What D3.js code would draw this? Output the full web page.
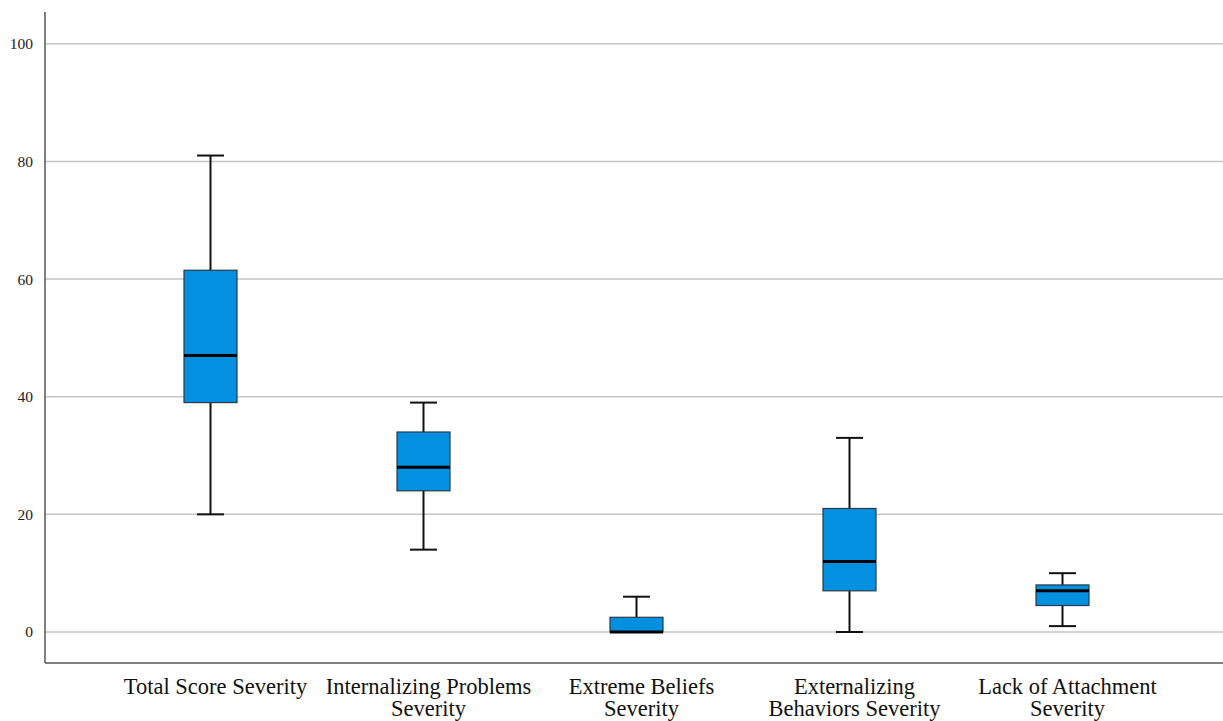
<!DOCTYPE html>
<html>
<head>
<meta charset="utf-8">
<title>Severity boxplots</title>
<script src="https://cdn.jsdelivr.net/npm/d3@7"></script>
<style>
  body { margin: 0; background: #fff; }
  svg { display: block; }
</style>
</head>
<body>
<svg width="1223" height="721"></svg>
<script>
// categories, two text lines each
const categories = ["Total Score Severity", "Internalizing Problems Severity", "Extreme Beliefs Severity",
                    "Externalizing Behaviors Severity", "Lack of Attachment Severity"];
const labelLines = [["Total Score Severity"], ["Internalizing Problems", "Severity"], ["Extreme Beliefs", "Severity"],
                    ["Externalizing", "Behaviors Severity"], ["Lack of Attachment", "Severity"]];
// five-number summaries
const mins    = [20, 14, 0, 0, 1];
const q1s     = [39, 24, 0, 7, 4.5];
const medians = [47, 28, 0, 12, 7];
const q3s     = [61.5, 34, 2.5, 21, 8];
const maxs    = [81, 39, 6, 33, 10];
const yTicks  = [0, 20, 40, 60, 80, 100];

const svg = d3.select("svg");
const plotLeft = 45, plotRight = 1223, plotTop = 12, plotBottom = 663;

var y = d3.scaleLinear().domain([-5.27, 105.4]).range([plotBottom, plotTop]);
var x = d3.scaleBand().domain(categories).range([104, 1169]);

const boxW = 53, capW = 27;

// gridlines
svg.append("g").selectAll("line").data(yTicks).enter().append("line")
    .attr("x1", plotLeft).attr("x2", plotRight)
    .attr("y1", d => y(d)).attr("y2", d => y(d))
    .attr("stroke", "#c4c4c4").attr("stroke-width", 1.5);

// y axis
var yAxis = svg.append("g")
    .attr("transform", "translate(" + plotLeft + ",0)")
    .call(d3.axisLeft(y).tickValues(yTicks).tickSize(0).tickPadding(12));
yAxis.select(".domain").remove();
yAxis.selectAll("text")
    .attr("font-family", "Liberation Serif, serif")
    .attr("font-size", 15.5)
    .attr("fill", "#222");

// axis lines
svg.append("line").attr("x1", plotLeft).attr("x2", plotLeft).attr("y1", plotTop).attr("y2", plotBottom)
    .attr("stroke", "#555").attr("stroke-width", 1.5);
svg.append("line").attr("x1", plotLeft).attr("x2", plotRight).attr("y1", plotBottom).attr("y2", plotBottom)
    .attr("stroke", "#555").attr("stroke-width", 1.5);

const data = categories.map((c, i) => ({
    cat: c, min: mins[i], q1: q1s[i], med: medians[i], q3: q3s[i], max: maxs[i], lines: labelLines[i]
}));
const cx = d => x(d.cat) + x.bandwidth() / 2;

const boxes = svg.append("g").selectAll("g").data(data).enter().append("g");

// whiskers
boxes.append("line")
    .attr("x1", cx).attr("x2", cx)
    .attr("y1", d => y(d.max)).attr("y2", d => y(d.min))
    .attr("stroke", "#111").attr("stroke-width", 2);
boxes.filter(d => d.max > d.q3).append("line")
    .attr("x1", d => cx(d) - capW / 2).attr("x2", d => cx(d) + capW / 2)
    .attr("y1", d => y(d.max)).attr("y2", d => y(d.max))
    .attr("stroke", "#111").attr("stroke-width", 2);
boxes.filter(d => d.min < d.q1).append("line")
    .attr("x1", d => cx(d) - capW / 2).attr("x2", d => cx(d) + capW / 2)
    .attr("y1", d => y(d.min)).attr("y2", d => y(d.min))
    .attr("stroke", "#111").attr("stroke-width", 2);

// box
boxes.append("rect")
    .attr("x", d => cx(d) - boxW / 2)
    .attr("y", d => y(d.q3))
    .attr("width", boxW)
    .attr("height", d => y(d.q1) - y(d.q3))
    .attr("fill", "#0390e0")
    .attr("stroke", "#2a3a48").attr("stroke-width", 1.2);

// median
boxes.append("line")
    .attr("x1", d => cx(d) - boxW / 2).attr("x2", d => cx(d) + boxW / 2)
    .attr("y1", d => y(d.med)).attr("y2", d => y(d.med))
    .attr("stroke", "#000").attr("stroke-width", 3);

// category labels
boxes.append("text")
    .attr("text-anchor", "middle")
    .attr("font-family", "Liberation Serif, serif")
    .attr("font-size", 22.5)
    .attr("fill", "#111")
    .selectAll("tspan").data(d => d.lines.map(l => ({ l: l, c: cx(d) }))).enter().append("tspan")
    .attr("x", t => t.c + 5)
    .attr("y", (t, i) => 694 + i * 22)
    .text(t => t.l);
</script>
</body>
</html>
